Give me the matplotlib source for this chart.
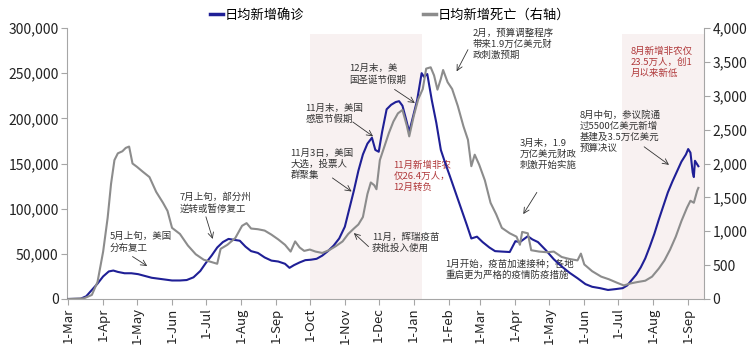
import matplotlib
matplotlib.use("Agg")
import matplotlib.pyplot as plt
import matplotlib.dates as mdates
import matplotlib.ticker as mticker
import pandas as pd

plt.rcParams["font.family"] = ["Noto Sans CJK SC", "DejaVu Sans"]

# 日均新增确诊 (left axis)
case_dates = [
    "2020-03-01", "2020-03-12", "2020-03-17", "2020-03-22", "2020-03-27", "2020-04-01",
    "2020-04-06", "2020-04-10", "2020-04-14", "2020-04-20", "2020-04-26", "2020-05-02",
    "2020-05-08", "2020-05-14", "2020-05-20", "2020-05-26", "2020-06-01", "2020-06-08",
    "2020-06-14", "2020-06-20", "2020-06-26", "2020-07-01", "2020-07-06", "2020-07-11",
    "2020-07-16", "2020-07-21", "2020-07-26", "2020-07-31", "2020-08-05", "2020-08-10",
    "2020-08-16", "2020-08-22", "2020-08-28", "2020-09-03", "2020-09-09", "2020-09-13",
    "2020-09-17", "2020-09-22", "2020-09-27", "2020-10-02", "2020-10-07", "2020-10-12",
    "2020-10-17", "2020-10-22", "2020-10-27", "2020-11-01", "2020-11-05", "2020-11-09",
    "2020-11-13", "2020-11-17", "2020-11-21", "2020-11-25", "2020-11-28", "2020-12-01",
    "2020-12-04", "2020-12-08", "2020-12-12", "2020-12-16", "2020-12-19", "2020-12-22",
    "2020-12-25", "2020-12-28", "2021-01-01", "2021-01-04", "2021-01-08", "2021-01-10",
    "2021-01-13", "2021-01-17", "2021-01-21", "2021-01-25", "2021-01-29", "2021-02-02",
    "2021-02-07", "2021-02-12", "2021-02-17", "2021-02-21", "2021-02-26", "2021-03-03",
    "2021-03-09", "2021-03-14", "2021-03-20", "2021-03-27", "2021-04-01", "2021-04-05",
    "2021-04-12", "2021-04-16", "2021-04-21", "2021-04-28", "2021-05-05", "2021-05-12",
    "2021-05-19", "2021-05-26", "2021-06-02", "2021-06-08", "2021-06-15", "2021-06-22",
    "2021-06-29", "2021-07-05", "2021-07-09", "2021-07-13", "2021-07-17", "2021-07-21",
    "2021-07-25", "2021-07-29", "2021-08-02", "2021-08-06", "2021-08-10", "2021-08-14",
    "2021-08-18", "2021-08-22", "2021-08-26", "2021-08-30", "2021-09-01", "2021-09-03",
    "2021-09-05", "2021-09-06", "2021-09-07", "2021-09-10",
]
case_values = [
    0, 300, 3000, 10000, 17000, 25000,
    30500, 31500, 30000, 28500, 28500, 27500,
    25500, 23500, 22500, 21500, 20500, 20500,
    21000, 24000, 31000, 40000, 48000, 57000,
    63000, 66500, 65500, 64500, 58000, 53000,
    51000, 46000, 42500, 41500, 39000, 34500,
    37500, 40500, 43000, 43500, 44500, 48000,
    53000, 59000, 67000, 80000, 100000, 120000,
    142000, 160000, 172000, 178500, 165000, 163000,
    185000, 210000, 215000, 218000, 219000, 214000,
    200000, 185000, 205000, 220000, 250000, 246000,
    249000, 220000, 195000, 165000, 150000, 136000,
    118000, 100000, 82000, 67000, 69000, 63000,
    57000, 53000, 52500, 52000, 64000, 63000,
    69500, 66000, 63000, 54000, 44000, 36000,
    29000, 23000, 16500, 13500, 12000, 10000,
    11000, 12000, 15000, 21000, 27000, 35000,
    45000, 58000, 72000, 88000, 103000, 118000,
    130000, 141000, 152000, 160000, 166000, 162000,
    140000, 135000, 153000, 147000,
]

# 日均新增死亡 (right axis)
death_dates = [
    "2020-03-01", "2020-03-15", "2020-03-22", "2020-03-27", "2020-04-01", "2020-04-05",
    "2020-04-08", "2020-04-11", "2020-04-14", "2020-04-18", "2020-04-21", "2020-04-24",
    "2020-04-27", "2020-05-01", "2020-05-06", "2020-05-12", "2020-05-18", "2020-05-24",
    "2020-05-28", "2020-06-01", "2020-06-08", "2020-06-15", "2020-06-22", "2020-06-29",
    "2020-07-05", "2020-07-11", "2020-07-14", "2020-07-20", "2020-07-27", "2020-08-02",
    "2020-08-06", "2020-08-10", "2020-08-16", "2020-08-22", "2020-08-28", "2020-09-03",
    "2020-09-09", "2020-09-14", "2020-09-18", "2020-09-22", "2020-09-26", "2020-10-01",
    "2020-10-06", "2020-10-12", "2020-10-18", "2020-10-24", "2020-10-30", "2020-11-04",
    "2020-11-09", "2020-11-13", "2020-11-17", "2020-11-21", "2020-11-24", "2020-11-27",
    "2020-11-29", "2020-12-02", "2020-12-06", "2020-12-10", "2020-12-14", "2020-12-18",
    "2020-12-22", "2020-12-26", "2020-12-28", "2021-01-01", "2021-01-05", "2021-01-09",
    "2021-01-12", "2021-01-16", "2021-01-19", "2021-01-22", "2021-01-25", "2021-01-27",
    "2021-01-31", "2021-02-04", "2021-02-09", "2021-02-14", "2021-02-18", "2021-02-21",
    "2021-02-24", "2021-02-28", "2021-03-05", "2021-03-10", "2021-03-15", "2021-03-20",
    "2021-03-27", "2021-04-02", "2021-04-05", "2021-04-07", "2021-04-12", "2021-04-15",
    "2021-04-22", "2021-04-29", "2021-05-05", "2021-05-12", "2021-05-19", "2021-05-26",
    "2021-05-29", "2021-06-01", "2021-06-08", "2021-06-16", "2021-06-23", "2021-06-30",
    "2021-07-06", "2021-07-12", "2021-07-18", "2021-07-25", "2021-07-31", "2021-08-06",
    "2021-08-11", "2021-08-16", "2021-08-21", "2021-08-26", "2021-08-31", "2021-09-03",
    "2021-09-06", "2021-09-09", "2021-09-10",
]
death_values = [
    0, 10, 60, 250, 700, 1200,
    1700, 2050, 2150, 2180, 2230, 2250,
    2000, 1950, 1880, 1800, 1580, 1420,
    1300, 1050, 960, 790, 660, 580,
    550, 520, 740, 800, 900, 1080,
    1120, 1040, 1030, 1010, 950, 880,
    800, 700, 850, 760, 710, 730,
    700, 680, 720, 780, 850, 960,
    1040, 1100, 1210, 1550, 1720, 1680,
    1620, 2050, 2250, 2450, 2620, 2740,
    2790, 2550, 2400, 2700, 2950, 3100,
    3400, 3420, 3300, 3090, 3250, 3380,
    3200, 3100, 2850, 2550, 2350, 1960,
    2130, 1980, 1750, 1420, 1250, 1050,
    970, 920, 800, 990, 970, 720,
    700, 690, 700, 620, 590, 570,
    670, 510, 410, 330, 290, 240,
    200, 230, 250, 270, 330, 450,
    570, 730, 920, 1150, 1350, 1450,
    1420, 1600, 1640,
]

# shaded periods
shade_periods = [("2020-10-01", "2021-01-08"), ("2021-07-04", "2021-09-15")]

BLUE = "#1f1f96"
GRAY = "#8c8c8c"
RED = "#b0383a"
TXT = "#333333"
AXC = "#a6a6a6"


def d(s):
    return mdates.date2num(pd.Timestamp(s))


fig = plt.figure(figsize=(7.5, 3.48), dpi=100)
ax = fig.add_axes([67 / 750, 1 - 299 / 348, (704 - 67) / 750, 271 / 348])
ax2 = ax.twinx()

for a, b in shade_periods:
    ax.axvspan(d(a), d(b), ymin=0, ymax=0.978, color="#f8f1f1", lw=0, zorder=0)

l1, = ax.plot(pd.to_datetime(case_dates), case_values, color=BLUE, lw=1.5, zorder=3)
l2, = ax2.plot(pd.to_datetime(death_dates), death_values, color=GRAY, lw=1.5, zorder=2)

ax.set_xlim(d("2020-02-29"), d("2021-09-15"))
ax.set_ylim(0, 300000)
ax2.set_ylim(0, 4000)
ax.set_yticks(range(0, 300001, 50000))
ax2.set_yticks(range(0, 4001, 500))
ax.yaxis.set_major_formatter(mticker.StrMethodFormatter("{x:,.0f}"))
ax2.yaxis.set_major_formatter(mticker.StrMethodFormatter("{x:,.0f}"))

ax.xaxis.set_major_locator(mdates.MonthLocator())
ax.xaxis.set_major_formatter(mticker.FuncFormatter(
    lambda v, p: "1-" + mdates.num2date(v).strftime("%b")))

for a in (ax, ax2):
    a.spines["top"].set_visible(False)
    for s in ("left", "right", "bottom"):
        a.spines[s].set_color(AXC)
    a.tick_params(colors=AXC, labelcolor="#222222", length=4, width=0.8)
ax.spines["right"].set_visible(False)
ax2.spines["left"].set_visible(False)
ax2.spines["bottom"].set_visible(False)
ax.tick_params(axis="y", labelsize=10, pad=2)
ax.tick_params(axis="x", labelsize=9.5, pad=2, rotation=90)
ax2.tick_params(axis="y", labelsize=10, pad=2)

fig.legend([l1, l2], ["日均新增确诊", "日均新增死亡（右轴）"], loc="upper center",
           bbox_to_anchor=(0.52, 1.01), ncol=2, frameon=False, fontsize=9.5,
           handlelength=1.0, handletextpad=0.1, columnspacing=9.0)
for h in fig.legends[0].get_lines():
    h.set_linewidth(2.5)

arrow = dict(arrowstyle="->", color="#333333", lw=0.6, shrinkA=0, shrinkB=0)
fs = 6.8

notes = [
    ("5月上旬，美国\n分布复工", "2020-04-07", 74000, "2020-04-27", 47000, "2020-05-10", 36500, TXT),
    ("7月上旬，部分州\n逆转或暂停复工", "2020-06-08", 118500, "2020-07-01", 91000, "2020-07-07", 66500, TXT),
    ("11月3日，美国\n大选，投票人\n群聚集", "2020-09-14", 166000, "2020-10-21", 134000, "2020-11-07", 119000, TXT),
    ("11月末，美国\n感恩节假期", "2020-09-27", 216000, "2020-11-08", 196000, "2020-11-26", 180000, TXT),
    ("12月末，美\n国圣诞节假期", "2020-11-05", 260000, "2020-12-15", 232000, "2021-01-02", 217000, TXT),
    ("11月，辉瑞疫苗\n获批投入使用", "2020-11-25", 73000, "2020-11-22", 58000, "2020-11-09", 73000, TXT),
    ("2月，预算调整程序\n带来1.9万亿美元财\n政刺激预期", "2021-02-22", 299000, "2021-02-18", 276000, "2021-02-08", 252000, TXT),
    ("3月末，1.9\n万亿美元财政\n刺激开始实施", "2021-04-05", 177000, "2021-04-20", 118000, "2021-04-08", 94000, TXT),
    ("8月中旬，参议院通\n过5500亿美元新增\n基建及3.5万亿美元\n预算决议", "2021-05-28", 209000, "2021-07-24", 168500, "2021-08-15", 148500, TXT),
]
for txt, tx, ty, ax0, ay0, ax1, ay1, c in notes:
    ax.text(d(tx), ty, txt, fontsize=fs, color=c, ha="left", va="top",
            linespacing=1.25, zorder=5)
    ax.annotate("", xy=(d(ax1), ay1), xytext=(d(ax0), ay0), arrowprops=arrow, zorder=5)

plain = [
    ("11月新增非农\n仅26.4万人，\n12月转负", "2020-12-14", 153000, RED),
    ("1月开始，疫苗加速接种；各地\n重启更为严格的疫情防疫措施", "2021-01-29", 44500, TXT),
    ("8月新增非农仅\n23.5万人，创1\n月以来新低", "2021-07-12", 279000, RED),
]
for txt, tx, ty, c in plain:
    ax.text(d(tx), ty, txt, fontsize=fs, color=c, ha="left", va="top",
            linespacing=1.25, zorder=1)

fig.savefig("out.png", dpi=100)
